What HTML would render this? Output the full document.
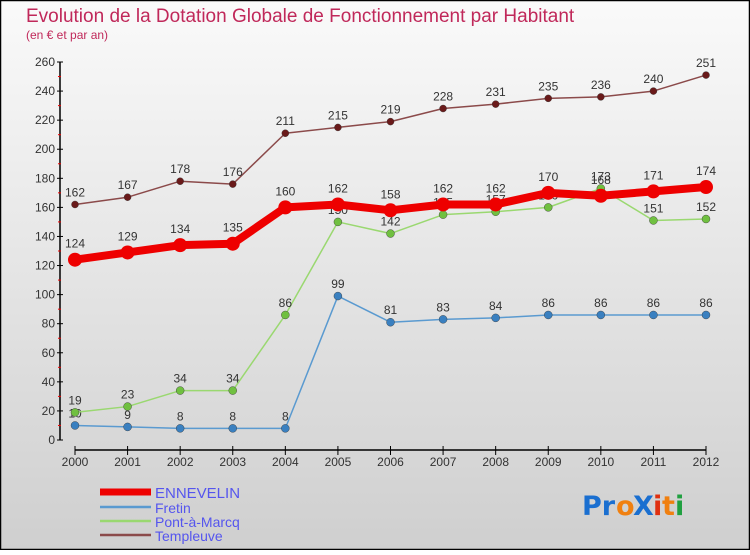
<!DOCTYPE html>
<html><head><meta charset="utf-8"><style>
html,body{margin:0;padding:0;}
body{width:750px;height:550px;overflow:hidden;font-family:"Liberation Sans","DejaVu Sans",sans-serif;}
</style></head><body>
<svg id="chart" width="750" height="550" xmlns="http://www.w3.org/2000/svg">
<defs><linearGradient id="bg" x1="0" y1="0" x2="0" y2="1"><stop offset="0" stop-color="#fafafa"/><stop offset="1" stop-color="#cfcfcf"/></linearGradient></defs>
<rect x="0.5" y="0.5" width="749" height="549" fill="url(#bg)" stroke="#000" stroke-width="1.5"/>
<text x="26" y="22" font-size="19" fill="#c0285a">Evolution de la Dotation Globale de Fonctionnement par Habitant</text>
<text x="26" y="39" font-size="12" fill="#c0285a">(en € et par an)</text>
<g id="axes"></g>
<g id="series"></g>
<g id="legend"></g>
<g font-size="27" font-family="DejaVu Sans, sans-serif" font-weight="bold">
<text x="582" y="515" fill="#1a6fd0">Pr</text><text x="616" y="515" fill="#f08010">o</text>
<text x="633" y="515" fill="#1a6fd0">X</text><text x="653" y="515" fill="#e03010">i</text>
<text x="662" y="515" fill="#f08010">t</text><text x="675" y="515" fill="#20a040">i</text>
</g>
</svg>
<script>
const years = [2000,2001,2002,2003,2004,2005,2006,2007,2008,2009,2010,2011,2012];
const yTicks = [0,20,40,60,80,100,120,140,160,180,200,220,240,260];
const ennevelin = [124,129,134,135,160,162,158,162,162,170,168,171,174];
const fretin = [10,9,8,8,8,99,81,83,84,86,86,86,86];
const pontAMarcq = [19,23,34,34,86,150,142,155,157,160,173,151,152];
const templeuve = [162,167,178,176,211,215,219,228,231,235,236,240,251];
const NS="http://www.w3.org/2000/svg";
const X0=75,X1=706,Y0=440,Y1=62;
const xs=i=>X0+(X1-X0)*i/(years.length-1);
const ys=v=>Y0-(Y0-Y1)*v/260;
function el(tag,attrs,parent){const e=document.createElementNS(NS,tag);for(const k in attrs)e.setAttribute(k,attrs[k]);parent.appendChild(e);return e;}
const axes=document.getElementById('axes');
const ya=el('line',{x1:60,y1:Y1,x2:60,y2:Y0,stroke:'#000','stroke-width':1.5},axes);


yTicks.forEach(v=>{
  el('line',{x1:57,x2:63,y1:ys(v),y2:ys(v),stroke:'#000'},axes);
  if(v<260){el('line',{x1:58,x2:61,y1:ys(v+10),y2:ys(v+10),stroke:'#e00'},axes);}
  const t=el('text',{x:55,y:ys(v)+4,'text-anchor':'end','font-size':12,fill:'#333'},axes);
  
  
  t.textContent=v;
});
const xa=el('line',{x1:X0,y1:450,x2:X1,y2:450,stroke:'#000','stroke-width':1.5},axes);


years.forEach((y,i)=>{
  el('line',{x1:xs(i),x2:xs(i),y1:446,y2:455,stroke:'#000'},axes);
  const t=el('text',{x:xs(i),y:466,'text-anchor':'middle','font-size':12,fill:'#333'},axes);
  
  
  t.textContent=y;
});
const seriesList=[
 {name:'templeuve',data:templeuve,color:'#8b4a4a',dot:'#6a1a1a',w:1.5,r:3.5},
 {name:'fretin',data:fretin,color:'#5a9ad0',dot:'#3a80c0',w:1.5,r:4},
 {name:'pont-a-marcq',data:pontAMarcq,color:'#9ad870',dot:'#70c040',w:1.5,r:4},
 {name:'ennevelin',data:ennevelin,color:'#ee0000',dot:'#ee0000',w:8,r:7}
];
const sg=document.getElementById('series');
seriesList.forEach(s=>{
  const g=el('g',{},sg);
  
  
  const pl=el('polyline',{points:s.data.map((v,i)=>xs(i)+','+ys(v)).join(' '),fill:'none',stroke:s.color,'stroke-width':s.w,'stroke-linejoin':'round'},g);
  
  
  s.data.forEach((v,i)=>{
    const c=el('circle',{cx:xs(i),cy:ys(v),r:s.r,fill:s.dot,stroke:s.name==='ennevelin'?'none':'#333','stroke-width':0.4},g);
    
    
    const t=el('text',{x:xs(i),y:ys(v)-(s.name==='ennevelin'?12:8),'text-anchor':'middle','font-size':12,fill:'#333'},g);
    
    
    t.textContent=v;
  });
});
const lg=document.getElementById('legend');
const leg=[['ENNEVELIN','#ee0000',7,495,15],['Fretin','#5a9ad0',2.5,510,14],['Pont-à-Marcq','#9ad870',2.5,524,14],['Templeuve','#8b4a4a',2.5,538,14]];
leg.forEach(l=>{
  const g=el('g',{},lg);
  
  
  el('line',{x1:100,x2:151,y1:l[3]-3,y2:l[3]-3,stroke:l[1],'stroke-width':l[2]},g);
  const t=el('text',{x:155,y:l[3]+3,'font-size':l[4],fill:'#5555ee'},g);
  t.textContent=l[0];
});
</script>
</body></html>
